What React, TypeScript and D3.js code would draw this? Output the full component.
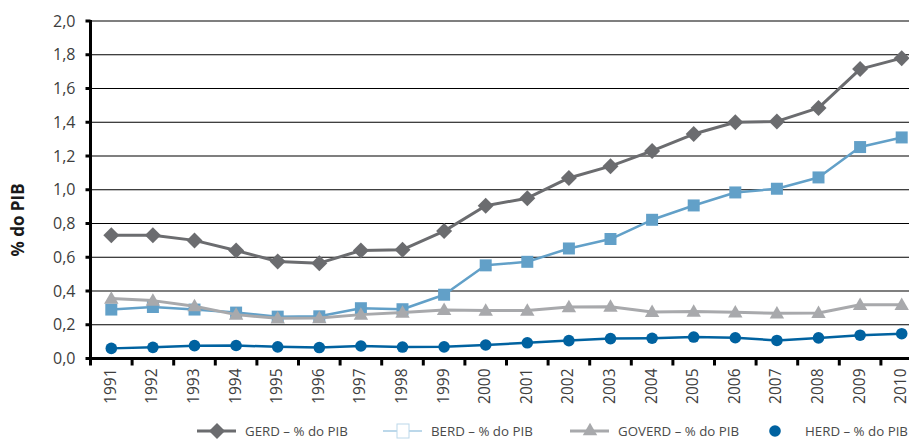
import { scaleBand, scaleLinear, line as d3Line, symbol, symbolSquare, symbolTriangle } from "d3";

const years = [
  "1991", "1992", "1993", "1994", "1995", "1996", "1997", "1998", "1999", "2000",
  "2001", "2002", "2003", "2004", "2005", "2006", "2007", "2008", "2009", "2010",
];

const gerd = [0.73, 0.73, 0.70, 0.64, 0.575, 0.565, 0.64, 0.645, 0.755, 0.905, 0.95, 1.07, 1.14, 1.23, 1.33, 1.40, 1.405, 1.485, 1.715, 1.78];
const berd = [0.29, 0.305, 0.29, 0.272, 0.248, 0.25, 0.298, 0.292, 0.378, 0.552, 0.573, 0.652, 0.708, 0.822, 0.907, 0.984, 1.006, 1.073, 1.253, 1.31];
const goverd = [0.355, 0.343, 0.31, 0.26, 0.238, 0.24, 0.26, 0.272, 0.288, 0.284, 0.284, 0.305, 0.307, 0.276, 0.278, 0.274, 0.268, 0.27, 0.318, 0.318];
const herd = [0.06, 0.066, 0.076, 0.077, 0.069, 0.065, 0.074, 0.068, 0.069, 0.08, 0.093, 0.106, 0.118, 0.12, 0.127, 0.123, 0.107, 0.122, 0.138, 0.147];

const yTicks = [0, 0.2, 0.4, 0.6, 0.8, 1.0, 1.2, 1.4, 1.6, 1.8, 2.0];

const WIDTH = 909;
const HEIGHT = 439;
const margin = { top: 21, left: 90.5, bottom: 358.5, right: 922.5 };

type Marker = "diamond" | "square" | "triangle" | "circle";

interface Series {
  name: string;
  values: number[];
  color: string;
  width: number;
  marker: Marker;
  size: number;
}

const series: Series[] = [
  { name: "GERD – % do PIB", values: gerd, color: "#6b6c6f", width: 3, marker: "diamond", size: 8 },
  { name: "BERD – % do PIB", values: berd, color: "#62a0c8", width: 2.5, marker: "square", size: 144 },
  { name: "GOVERD – % do PIB", values: goverd, color: "#a8a9ac", width: 3, marker: "triangle", size: 90 },
  { name: "HERD – % do PIB", values: herd, color: "#0062a0", width: 2.5, marker: "circle", size: 5.8 },
];

const MarkerShape = ({ m, size, fill }: { m: Marker; size: number; fill: string }) => {
  if (m === "circle") return <circle r={size} fill={fill} />;
  if (m === "diamond") {
    // square diamond (rotated square), half-diagonal = size
    return <path d={`M0,${-size}L${size},0L0,${size}L${-size},0Z`} fill={fill} />;
  }
  const type = m === "square" ? symbolSquare : symbolTriangle;
  return <path d={symbol(type, size)() ?? ""} fill={fill} />;
};

const font = "'Open Sans', sans-serif";

export default function App() {
  const x = scaleBand<string>().domain(years).range([margin.left, margin.right]);
  const y = scaleLinear().domain([0, 2]).range([margin.bottom, margin.top]);
  const bw = x.bandwidth();
  const cx = (i: number) => (x(years[i]) ?? 0) + bw / 2;
  const boundaries = years.map((yr) => x(yr) ?? 0).concat([margin.right]);

  const legend = [
    { s: series[0], lx: 197, tx: 245 },
    { s: series[1], lx: 383, tx: 431 },
    { s: series[2], lx: 570, tx: 618 },
    { s: series[3], lx: 756, tx: 805 },
  ];
  const legendY = 431;

  return (
    <svg
      width={WIDTH}
      height={HEIGHT}
      viewBox={`0 0 ${WIDTH} ${HEIGHT}`}
      style={{ position: "absolute", left: 0, top: 0, background: "#fff" }}
    >
      {/* gridlines */}
      {yTicks.slice(1).map((t) => (
        <line key={`g-${t}`} x1={margin.left} x2={WIDTH} y1={y(t)} y2={y(t)} stroke="#000" strokeWidth={1.2} />
      ))}

      {/* y axis */}
      <line x1={margin.left} x2={margin.left} y1={margin.top - 1} y2={margin.bottom} stroke="#000" strokeWidth={3} />
      {yTicks.map((t) => (
        <g key={`y-${t}`} transform={`translate(${margin.left}, ${y(t)})`}>
          <line x1={-5} x2={0} stroke="#000" strokeWidth={3} />
          <text
            x={-15}
            dy="0.35em"
            textAnchor="end"
            fontFamily={font}
            fontSize={16}
            fill="#3d3d3d"
          >
            {t.toFixed(1).replace(".", ",")}
          </text>
        </g>
      ))}

      {/* x axis */}
      <line x1={margin.left - 1.5} x2={WIDTH} y1={margin.bottom} y2={margin.bottom} stroke="#000" strokeWidth={3} />
      {boundaries.map((bx, i) => (
        <line key={`xt-${i}`} x1={bx} x2={bx} y1={margin.bottom} y2={margin.bottom + 7} stroke="#000" strokeWidth={3} />
      ))}
      {years.map((yr, i) => (
        <text
          key={`xl-${yr}`}
          transform={`translate(${cx(i) + 4.5}, ${margin.bottom + 10}) rotate(-90)`}
          textAnchor="end"
          fontFamily={font}
          fontSize={15.5}
          fill="#3d3d3d"
        >
          {yr}
        </text>
      ))}

      {/* y title */}
      <text
        transform="translate(24, 220) rotate(-90)"
        textAnchor="middle"
        fontFamily={font}
        fontWeight={700}
        fontSize={17}
        fill="#1a1a1a"
      >
        % do PIB
      </text>

      {/* series */}
      {series.map((s) => {
        const path = d3Line<number>()
          .x((_, i) => cx(i))
          .y((d) => y(d))(s.values) ?? "";
        return (
          <g key={s.name}>
            <path d={path} fill="none" stroke={s.color} strokeWidth={s.width} strokeLinejoin="round" />
            {s.values.map((v, i) => (
              <g key={i} transform={`translate(${cx(i)}, ${y(v) + (s.marker === "triangle" ? 1 : 0)})`}>
                <MarkerShape m={s.marker} size={s.size} fill={s.color} />
              </g>
            ))}
          </g>
        );
      })}

      {/* legend */}
      {legend.map(({ s, lx, tx }) => {
        const isBerd = s.marker === "square";
        const lineColor = isBerd ? "#bcd8ea" : s.color;
        return (
          <g key={`lg-${s.name}`}>
            {s.marker !== "circle" && (
              <line x1={lx} x2={lx + 39} y1={legendY} y2={legendY} stroke={lineColor} strokeWidth={isBerd ? 2 : 3} />
            )}
            <g transform={`translate(${s.marker === "circle" ? lx + 19 : lx + 20}, ${legendY})`}>
              {isBerd ? (
                <rect x={-6} y={-7} width={12} height={14} fill="#fff" stroke="#bcd8ea" strokeWidth={1} />
              ) : (
                <MarkerShape m={s.marker} size={s.size} fill={s.color} />
              )}
            </g>
            <text x={tx} y={legendY} dy="0.35em" fontFamily={font} fontSize={13.3} fill="#4a4a4a">
              {s.name}
            </text>
          </g>
        );
      })}
    </svg>
  );
}
